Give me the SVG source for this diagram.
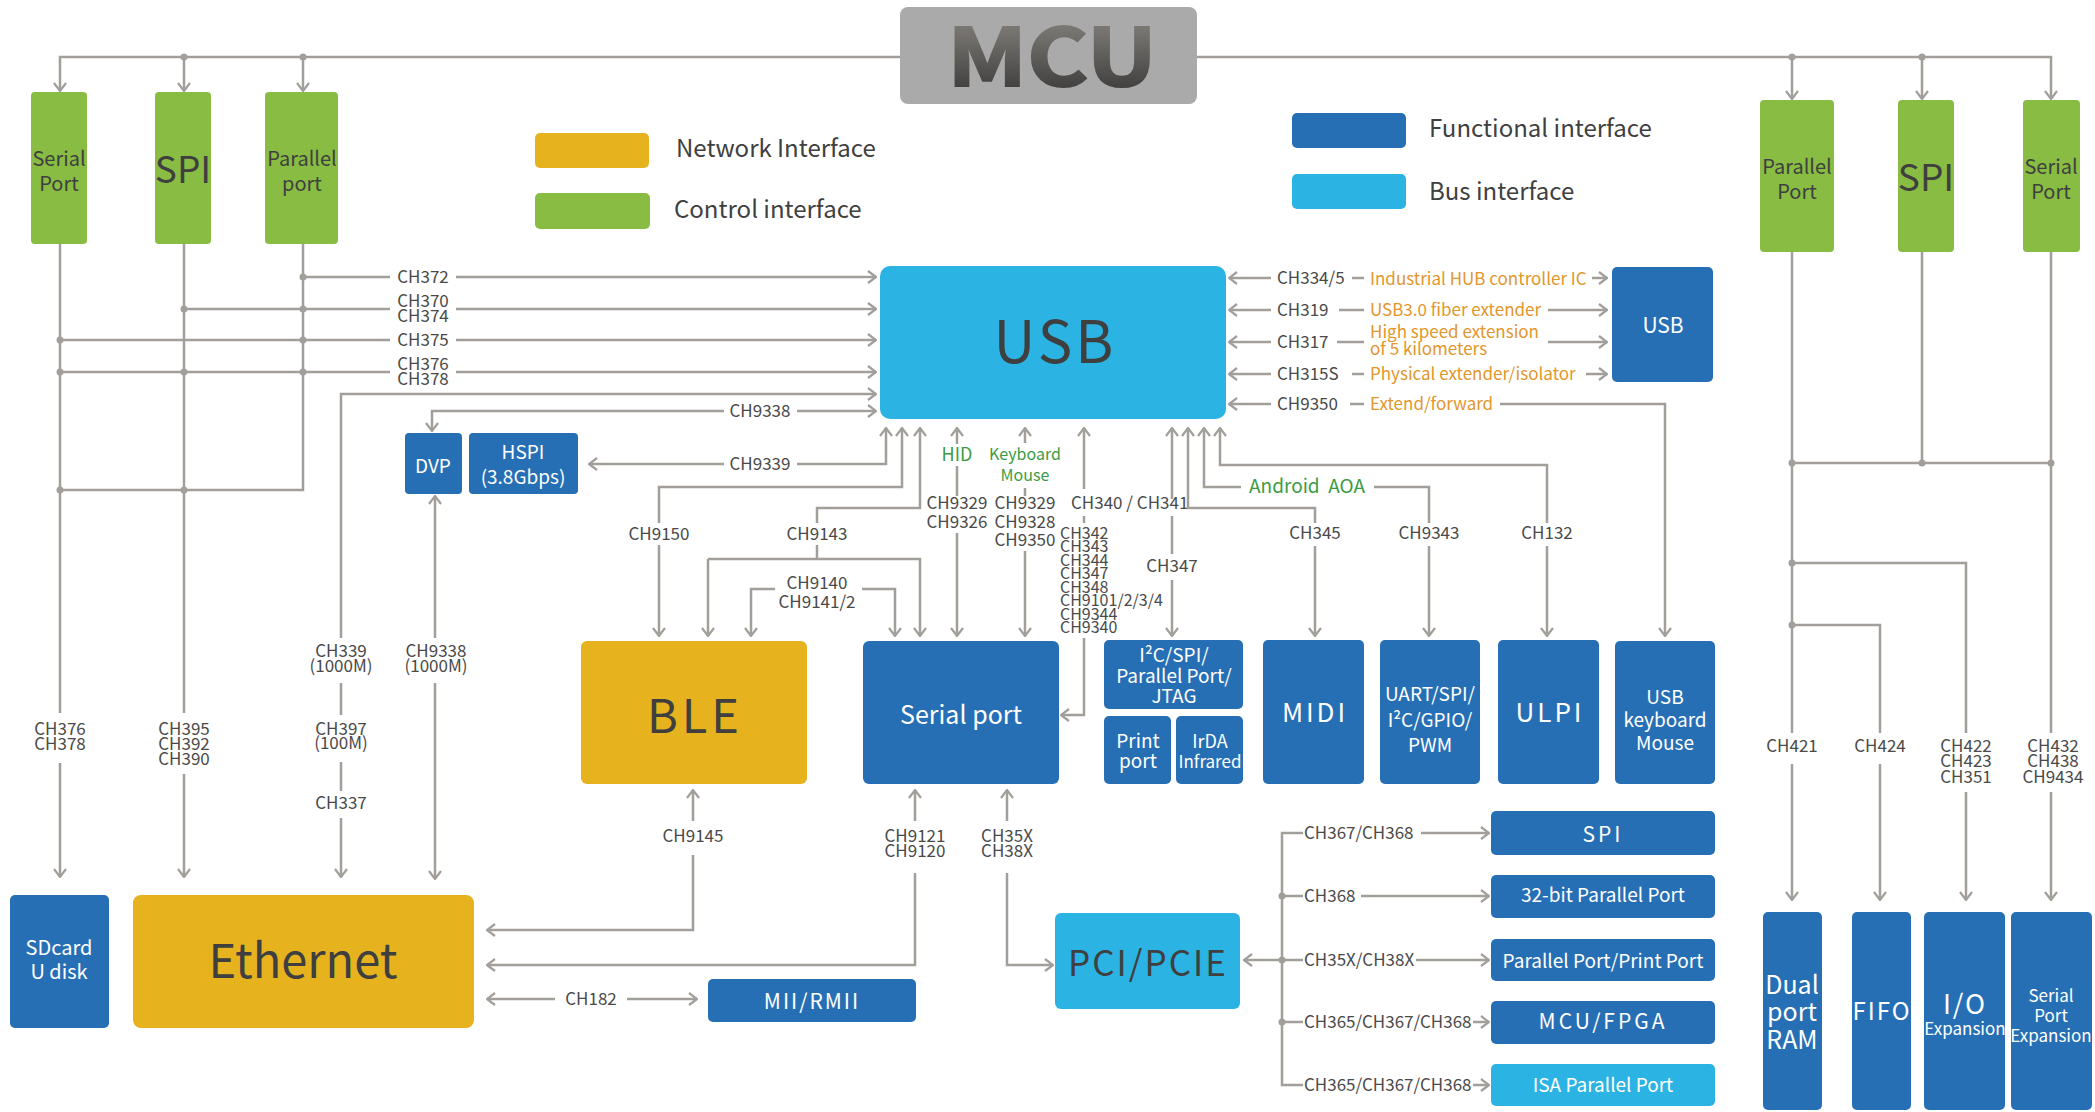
<svg xmlns="http://www.w3.org/2000/svg" width="2095" height="1112" viewBox="0 0 2095 1112">
<style>
text{font-family:"Noto Sans CJK SC","Noto Sans","Liberation Sans",sans-serif}
.ln{fill:none;stroke:#A29F9A;stroke-width:2.5}
.ar{marker-end:url(#arr)}
.dot{fill:#A29F9A}
.lb{font-size:17px;fill:#4a4a4a;text-anchor:middle}
.lbs{font-size:17px;fill:#4a4a4a}
.or{font-size:17px;fill:#E2962B}
.gt{font-size:18px;fill:#3C9C44;text-anchor:middle}
.green{fill:#88BC42}
.yel{fill:#E6B31E}
.dblue{fill:#276FB5}
.lblue{fill:#2BB3E3}
.wt{fill:#ffffff;text-anchor:middle}
.dk{fill:#3f3f3f;text-anchor:middle}
.leg{font-size:24px;fill:#404040}
</style>
<defs>
<marker id="arr" viewBox="0 0 10 14" refX="9" refY="7" markerWidth="10" markerHeight="14" markerUnits="userSpaceOnUse" orient="auto">
<path d="M1,1 L9,7 L1,13" fill="none" stroke="#A29F9A" stroke-width="2.2"/>
</marker>
<linearGradient id="mcug" x1="0" y1="0" x2="0" y2="1">
<stop offset="0" stop-color="#9a9690"/>
<stop offset="1" stop-color="#2e2e2e"/>
</linearGradient>
</defs>

<g id="connectors">
<!-- top bus -->
<path class="ln ar" d="M900,57 H60 V91"/>
<path class="ln ar" d="M184,57 V91"/>
<path class="ln ar" d="M303,57 V91"/>
<path class="ln ar" d="M1197,57 H2051 V99"/>
<path class="ln ar" d="M1792,57 V99"/>
<path class="ln ar" d="M1922,57 V99"/>
<circle class="dot" cx="184" cy="57" r="3.5"/>
<circle class="dot" cx="303" cy="57" r="3.5"/>
<circle class="dot" cx="1792" cy="57" r="3.5"/>
<circle class="dot" cx="1922" cy="57" r="3.5"/>

<!-- left control buses -->
<path class="ln" d="M60,244 V713"/>
<path class="ln ar" d="M60,763 V877"/>
<path class="ln" d="M184,244 V713"/>
<path class="ln ar" d="M184,774 V877"/>
<path class="ln" d="M303,244 V490 H60"/>
<path class="ln" d="M303,277 H390"/><path class="ln ar" d="M456,277 H876"/>
<path class="ln" d="M184,309 H390"/><path class="ln ar" d="M456,309 H876"/>
<path class="ln" d="M60,340 H390"/><path class="ln ar" d="M456,340 H876"/>
<path class="ln" d="M60,372 H390"/><path class="ln ar" d="M456,372 H876"/>
<circle class="dot" cx="303" cy="277" r="3.5"/>
<circle class="dot" cx="184" cy="309" r="3.5"/>
<circle class="dot" cx="303" cy="309" r="3.5"/>
<circle class="dot" cx="60" cy="340" r="3.5"/>
<circle class="dot" cx="303" cy="340" r="3.5"/>
<circle class="dot" cx="60" cy="372" r="3.5"/>
<circle class="dot" cx="184" cy="372" r="3.5"/>
<circle class="dot" cx="303" cy="372" r="3.5"/>
<circle class="dot" cx="60" cy="490" r="3.5"/>
<circle class="dot" cx="184" cy="490" r="3.5"/>
<text class="lb" x="423" y="283">CH372</text>
<text class="lb" x="423" y="307">CH370</text>
<text class="lb" x="423" y="322">CH374</text>
<text class="lb" x="423" y="346">CH375</text>
<text class="lb" x="423" y="370">CH376</text>
<text class="lb" x="423" y="385">CH378</text>
<text class="lb" x="60" y="735">CH376</text>
<text class="lb" x="60" y="750">CH378</text>
<text class="lb" x="184" y="735">CH395</text>
<text class="lb" x="184" y="750">CH392</text>
<text class="lb" x="184" y="765">CH390</text>

<!-- CH339 ethernet to USB -->
<path class="ln ar" d="M341,638 V394 H876"/>
<path class="ln" d="M341,683 V715"/>
<path class="ln" d="M341,762 V791"/>
<path class="ln ar" d="M341,818 V877"/>
<text class="lb" x="341" y="657">CH339</text>
<text class="lb" x="341" y="672">(1000M)</text>
<text class="lb" x="341" y="735">CH397</text>
<text class="lb" x="341" y="749">(100M)</text>
<text class="lb" x="341" y="809">CH337</text>

<!-- CH9338 DVP -->
<path class="ln ar" d="M724,411 H432 V431"/>
<path class="ln ar" d="M797,411 H876"/>
<text class="lb" x="760" y="417">CH9338</text>
<path class="ln ar" d="M435,638 V496"/>
<path class="ln ar" d="M435,683 V879"/>
<text class="lb" x="436" y="657">CH9338</text>
<text class="lb" x="436" y="672">(1000M)</text>
<!-- CH9339 HSPI -->
<path class="ln ar" d="M724,464 H589"/>
<path class="ln ar" d="M797,464 H886 V428"/>
<text class="lb" x="760" y="470">CH9339</text>

<!-- CH9150 -->
<path class="ln ar" d="M659,523 V487 H902 V428"/>
<path class="ln ar" d="M659,545 V636"/>
<text class="lb" x="659" y="540">CH9150</text>
<!-- CH9143 -->
<path class="ln ar" d="M817,523 V508 H920 V428"/>
<path class="ln" d="M817,545 V559"/>
<path class="ln ar" d="M708,559 V636"/>
<path class="ln ar" d="M708,559 H920 V636"/>
<text class="lb" x="817" y="540">CH9143</text>
<!-- CH9140 -->
<path class="ln ar" d="M775,589 H751 V636"/>
<path class="ln ar" d="M862,589 H895 V636"/>
<text class="lb" x="817" y="589">CH9140</text>
<text class="lb" x="817" y="608">CH9141/2</text>
<!-- HID -->
<path class="ln ar" d="M957,444 V428"/>
<path class="ln" d="M957,466 V496"/>
<path class="ln ar" d="M957,533 V636"/>
<text class="gt" x="957" y="461">HID</text>
<text class="lb" x="957" y="509">CH9329</text>
<text class="lb" x="957" y="528">CH9326</text>
<!-- Keyboard Mouse -->
<path class="ln ar" d="M1025,443 V428"/>
<path class="ln" d="M1025,488 V496"/>
<path class="ln ar" d="M1025,551 V636"/>
<text class="gt" x="1025" y="460" style="font-size:16px">Keyboard</text>
<text class="gt" x="1025" y="481" style="font-size:16px">Mouse</text>
<text class="lb" x="1025" y="509">CH9329</text>
<text class="lb" x="1025" y="528">CH9328</text>
<text class="lb" x="1025" y="546">CH9350</text>
<!-- CH340 -->
<path class="ln ar" d="M1084,489 V428"/>
<path class="ln" d="M1084,516 V523"/>
<path class="ln ar" d="M1084,638 V715 H1061"/>
<text class="lbs" x="1071" y="509">CH340 / CH341</text>
<g class="lbs" style="font-size:16px">
<text x="1060" y="539">CH342</text>
<text x="1060" y="552">CH343</text>
<text x="1060" y="566">CH344</text>
<text x="1060" y="579">CH347</text>
<text x="1060" y="593">CH348</text>
<text x="1060" y="606">CH9101/2/3/4</text>
<text x="1060" y="620">CH9344</text>
<text x="1060" y="633">CH9340</text>
</g>
<!-- CH347 -->
<path class="ln ar" d="M1172,499 V428"/>
<path class="ln" d="M1172,516 V554"/>
<path class="ln ar" d="M1172,580 V636"/>
<text class="lb" x="1172" y="572">CH347</text>
<!-- CH345 -->
<path class="ln ar" d="M1315,523 V508 H1188 V428"/>
<path class="ln ar" d="M1315,546 V636"/>
<text class="lb" x="1315" y="539">CH345</text>
<!-- Android AOA / CH9343 -->
<path class="ln ar" d="M1241,487 H1204 V428"/>
<path class="ln" d="M1374,487 H1429 V523"/>
<path class="ln ar" d="M1429,546 V636"/>
<text class="gt" x="1307" y="493" style="font-size:19px" xml:space="preserve">Android  AOA</text>
<text class="lb" x="1429" y="539">CH9343</text>
<!-- CH132 -->
<path class="ln ar" d="M1547,523 V465 H1220 V428"/>
<path class="ln ar" d="M1547,546 V636"/>
<text class="lb" x="1547" y="539">CH132</text>

<!-- USB right side -->
<path class="ln ar" d="M1271,278 H1229"/>
<path class="ln ar" d="M1271,310 H1229"/>
<path class="ln ar" d="M1271,342 H1229"/>
<path class="ln ar" d="M1271,374 H1229"/>
<path class="ln ar" d="M1271,404 H1229"/>
<path class="ln" d="M1352,278 H1364"/>
<path class="ln" d="M1339,310 H1364"/>
<path class="ln" d="M1337,342 H1364"/>
<path class="ln" d="M1352,374 H1364"/>
<path class="ln" d="M1350,404 H1364"/>
<text class="lbs" x="1277" y="284">CH334/5</text>
<text class="lbs" x="1277" y="316">CH319</text>
<text class="lbs" x="1277" y="348">CH317</text>
<text class="lbs" x="1277" y="380">CH315S</text>
<text class="lbs" x="1277" y="410">CH9350</text>
<text class="or" x="1370" y="285">Industrial HUB controller IC</text>
<text class="or" x="1370" y="316">USB3.0 fiber extender</text>
<text class="or" x="1370" y="338">High speed extension</text>
<text class="or" x="1370" y="355">of 5 kilometers</text>
<text class="or" x="1370" y="380">Physical extender/isolator</text>
<text class="or" x="1370" y="410">Extend/forward</text>
<path class="ln ar" d="M1592,278 H1607"/>
<path class="ln ar" d="M1548,310 H1607"/>
<path class="ln ar" d="M1548,342 H1607"/>
<path class="ln ar" d="M1586,374 H1607"/>
<path class="ln ar" d="M1500,404 H1665 V636"/>

<!-- bottom -->
<path class="ln ar" d="M693,821 V790"/>
<path class="ln ar" d="M693,855 V930 H487"/>
<text class="lb" x="693" y="842">CH9145</text>
<path class="ln ar" d="M915,821 V790"/>
<path class="ln ar" d="M915,873 V965 H487"/>
<text class="lb" x="915" y="842">CH9121</text>
<text class="lb" x="915" y="857">CH9120</text>
<path class="ln ar" d="M1007,821 V790"/>
<path class="ln ar" d="M1007,873 V965 H1053"/>
<text class="lb" x="1007" y="842">CH35X</text>
<text class="lb" x="1007" y="857">CH38X</text>
<path class="ln ar" d="M555,999 H487"/>
<path class="ln ar" d="M627,999 H697"/>
<text class="lb" x="591" y="1005">CH182</text>

<!-- PCI bus -->
<path class="ln ar" d="M1282,960 H1244"/>
<path class="ln" d="M1303,833 H1282 V1085 H1303"/>
<path class="ln" d="M1282,896 H1303"/>
<path class="ln" d="M1282,960 H1303"/>
<path class="ln" d="M1282,1022 H1303"/>
<circle class="dot" cx="1282" cy="896" r="3.5"/>
<circle class="dot" cx="1282" cy="960" r="3.5"/>
<circle class="dot" cx="1282" cy="1022" r="3.5"/>
<text class="lbs" x="1304" y="839">CH367/CH368</text>
<text class="lbs" x="1304" y="902">CH368</text>
<text class="lbs" x="1304" y="966">CH35X/CH38X</text>
<text class="lbs" x="1304" y="1028">CH365/CH367/CH368</text>
<text class="lbs" x="1304" y="1091">CH365/CH367/CH368</text>
<path class="ln ar" d="M1421,833 H1489"/>
<path class="ln ar" d="M1361,896 H1489"/>
<path class="ln ar" d="M1416,960 H1489"/>
<path class="ln ar" d="M1473,1022 H1489"/>
<path class="ln ar" d="M1473,1085 H1489"/>

<!-- right control buses -->
<path class="ln" d="M1792,252 V733"/>
<path class="ln ar" d="M1792,764 V900"/>
<path class="ln" d="M1922,252 V463"/>
<path class="ln" d="M2051,252 V733"/>
<path class="ln ar" d="M2051,792 V900"/>
<path class="ln" d="M1792,463 H2051"/>
<path class="ln" d="M1792,563 H1966 V733"/>
<path class="ln ar" d="M1966,792 V900"/>
<path class="ln" d="M1792,625 H1880 V733"/>
<path class="ln ar" d="M1880,764 V900"/>
<circle class="dot" cx="1792" cy="463" r="3.5"/>
<circle class="dot" cx="1922" cy="463" r="3.5"/>
<circle class="dot" cx="2051" cy="463" r="3.5"/>
<circle class="dot" cx="1792" cy="563" r="3.5"/>
<circle class="dot" cx="1792" cy="625" r="3.5"/>
<text class="lb" x="1792" y="752">CH421</text>
<text class="lb" x="1880" y="752">CH424</text>
<text class="lb" x="1966" y="752">CH422</text>
<text class="lb" x="1966" y="767">CH423</text>
<text class="lb" x="1966" y="783">CH351</text>
<text class="lb" x="2053" y="752">CH432</text>
<text class="lb" x="2053" y="767">CH438</text>
<text class="lb" x="2053" y="783">CH9434</text>
</g>

<g id="mcu">
<rect x="900" y="7" width="297" height="97" rx="8" fill="#ABAAAA"/>
<text transform="translate(1052,86) scale(1.17,1)" x="0" y="0" text-anchor="middle" font-family="Liberation Sans, Arial, sans-serif" font-weight="bold" font-size="80" fill="url(#mcug)" stroke="url(#mcug)" stroke-width="2">MCU</text>
</g>

<g id="legend">
<rect x="535" y="133" width="114" height="35" rx="5" class="yel"/>
<text class="leg" x="676" y="157">Network Interface</text>
<rect x="535" y="193" width="115" height="36" rx="5" class="green"/>
<text class="leg" x="674" y="218">Control interface</text>
<rect x="1292" y="113" width="114" height="35" rx="5" class="dblue"/>
<text class="leg" x="1429" y="137">Functional interface</text>
<rect x="1292" y="174" width="114" height="35" rx="5" class="lblue"/>
<text class="leg" x="1429" y="200">Bus interface</text>
</g>

<g id="serial-left">
<rect x="31" y="92" width="56" height="152" rx="4" class="green"/>
<text class="dk" x="59" y="166" font-size="20">Serial</text>
<text class="dk" x="59" y="191" font-size="20">Port</text>
</g>
<g id="spi-left">
<rect x="155" y="92" width="56" height="152" rx="4" class="green"/>
<text class="dk" x="183" y="183" font-size="37">SPI</text>
</g>
<g id="parallel-left">
<rect x="265" y="92" width="73" height="152" rx="4" class="green"/>
<text class="dk" x="302" y="166" font-size="20">Parallel</text>
<text class="dk" x="302" y="191" font-size="20">port</text>
</g>
<g id="parallel-right">
<rect x="1760" y="100" width="74" height="152" rx="4" class="green"/>
<text class="dk" x="1797" y="174" font-size="20">Parallel</text>
<text class="dk" x="1797" y="199" font-size="20">Port</text>
</g>
<g id="spi-right">
<rect x="1898" y="100" width="56" height="152" rx="4" class="green"/>
<text class="dk" x="1926" y="191" font-size="37">SPI</text>
</g>
<g id="serial-right">
<rect x="2023" y="100" width="57" height="152" rx="4" class="green"/>
<text class="dk" x="2051" y="174" font-size="20">Serial</text>
<text class="dk" x="2051" y="199" font-size="20">Port</text>
</g>

<g id="usb">
<rect x="880" y="266" width="346" height="153" rx="10" class="lblue"/>
<text class="dk" x="1055" y="363" font-size="58" letter-spacing="3">USB</text>
</g>
<g id="usb-device">
<rect x="1612" y="267" width="101" height="115" rx="5" class="dblue"/>
<text class="wt" x="1663" y="333" font-size="21">USB</text>
</g>
<g id="dvp">
<rect x="405" y="433" width="57" height="61" rx="4" class="dblue"/>
<text class="wt" x="433" y="473" font-size="19">DVP</text>
</g>
<g id="hspi">
<rect x="469" y="433" width="109" height="61" rx="4" class="dblue"/>
<text class="wt" x="523" y="459" font-size="19">HSPI</text>
<text class="wt" x="523" y="484" font-size="19">(3.8Gbps)</text>
</g>
<g id="ble">
<rect x="581" y="641" width="226" height="143" rx="6" class="yel"/>
<text class="dk" x="695" y="733" font-size="47" letter-spacing="4">BLE</text>
</g>
<g id="serial-port">
<rect x="863" y="641" width="196" height="143" rx="6" class="dblue"/>
<text class="wt" x="961" y="724" font-size="25">Serial port</text>
</g>
<g id="i2c">
<rect x="1104" y="640" width="139" height="69" rx="5" class="dblue"/>
<text class="wt" x="1174" y="662" font-size="19">I²C/SPI/</text>
<text class="wt" x="1174" y="683" font-size="19">Parallel Port/</text>
<text class="wt" x="1174" y="703" font-size="19">JTAG</text>
</g>
<g id="print-port">
<rect x="1104" y="716" width="67" height="68" rx="5" class="dblue"/>
<text class="wt" x="1138" y="748" font-size="19">Print</text>
<text class="wt" x="1138" y="768" font-size="19">port</text>
</g>
<g id="irda">
<rect x="1176" y="716" width="67" height="68" rx="5" class="dblue"/>
<text class="wt" x="1210" y="748" font-size="18">IrDA</text>
<text class="wt" x="1210" y="768" font-size="17">Infrared</text>
</g>
<g id="midi">
<rect x="1263" y="640" width="101" height="144" rx="5" class="dblue"/>
<text class="wt" x="1315" y="722" font-size="26" letter-spacing="3">MIDI</text>
</g>
<g id="uart">
<rect x="1380" y="640" width="100" height="144" rx="5" class="dblue"/>
<text class="wt" x="1430" y="701" font-size="19">UART/SPI/</text>
<text class="wt" x="1430" y="727" font-size="19">I²C/GPIO/</text>
<text class="wt" x="1430" y="752" font-size="19">PWM</text>
</g>
<g id="ulpi">
<rect x="1498" y="640" width="101" height="144" rx="5" class="dblue"/>
<text class="wt" x="1550" y="722" font-size="26" letter-spacing="3">ULPI</text>
</g>
<g id="usb-keyboard">
<rect x="1615" y="641" width="100" height="143" rx="5" class="dblue"/>
<text class="wt" x="1665" y="704" font-size="19">USB</text>
<text class="wt" x="1665" y="727" font-size="19">keyboard</text>
<text class="wt" x="1665" y="750" font-size="19">Mouse</text>
</g>
<g id="sdcard">
<rect x="10" y="895" width="99" height="133" rx="5" class="dblue"/>
<text class="wt" x="59" y="955" font-size="20">SDcard</text>
<text class="wt" x="59" y="979" font-size="20">U disk</text>
</g>
<g id="ethernet">
<rect x="133" y="895" width="341" height="133" rx="8" class="yel"/>
<text class="dk" x="303" y="978" font-size="47">Ethernet</text>
</g>
<g id="mii">
<rect x="708" y="979" width="208" height="43" rx="5" class="dblue"/>
<text class="wt" x="812" y="1009" font-size="21" letter-spacing="2">MII/RMII</text>
</g>
<g id="pci">
<rect x="1055" y="913" width="185" height="96" rx="6" class="lblue"/>
<text class="dk" x="1148" y="976" font-size="35" letter-spacing="2">PCI/PCIE</text>
</g>
<g id="spi-bus">
<rect x="1491" y="811" width="224" height="44" rx="5" class="dblue"/>
<text class="wt" x="1603" y="842" font-size="21" letter-spacing="3">SPI</text>
</g>
<g id="parallel32">
<rect x="1491" y="875" width="224" height="43" rx="5" class="dblue"/>
<text class="wt" x="1603" y="902" font-size="19">32-bit Parallel Port</text>
</g>
<g id="parallel-print">
<rect x="1491" y="939" width="224" height="42" rx="5" class="dblue"/>
<text class="wt" x="1603" y="968" font-size="19">Parallel Port/Print Port</text>
</g>
<g id="mcu-fpga">
<rect x="1491" y="1001" width="224" height="43" rx="5" class="dblue"/>
<text class="wt" x="1603" y="1029" font-size="21" letter-spacing="3">MCU/FPGA</text>
</g>
<g id="isa">
<rect x="1491" y="1064" width="224" height="42" rx="5" class="lblue"/>
<text class="wt" x="1603" y="1092" font-size="19">ISA Parallel Port</text>
</g>
<g id="dual-ram">
<rect x="1763" y="912" width="59" height="198" rx="5" class="dblue"/>
<text class="wt" x="1792" y="994" font-size="25">Dual</text>
<text class="wt" x="1792" y="1021" font-size="25">port</text>
<text class="wt" x="1792" y="1049" font-size="25">RAM</text>
</g>
<g id="fifo">
<rect x="1852" y="912" width="59" height="198" rx="5" class="dblue"/>
<text class="wt" x="1882" y="1020" font-size="24" letter-spacing="2">FIFO</text>
</g>
<g id="io-exp">
<rect x="1924" y="912" width="81" height="198" rx="5" class="dblue"/>
<text class="wt" x="1965" y="1014" font-size="27" letter-spacing="2">I/O</text>
<text class="wt" x="1965" y="1035" font-size="17">Expansion</text>
</g>
<g id="serial-exp">
<rect x="2011" y="912" width="81" height="198" rx="5" class="dblue"/>
<text class="wt" x="2051" y="1002" font-size="17">Serial</text>
<text class="wt" x="2051" y="1022" font-size="17">Port</text>
<text class="wt" x="2051" y="1042" font-size="17">Expansion</text>
</g>
</svg>
